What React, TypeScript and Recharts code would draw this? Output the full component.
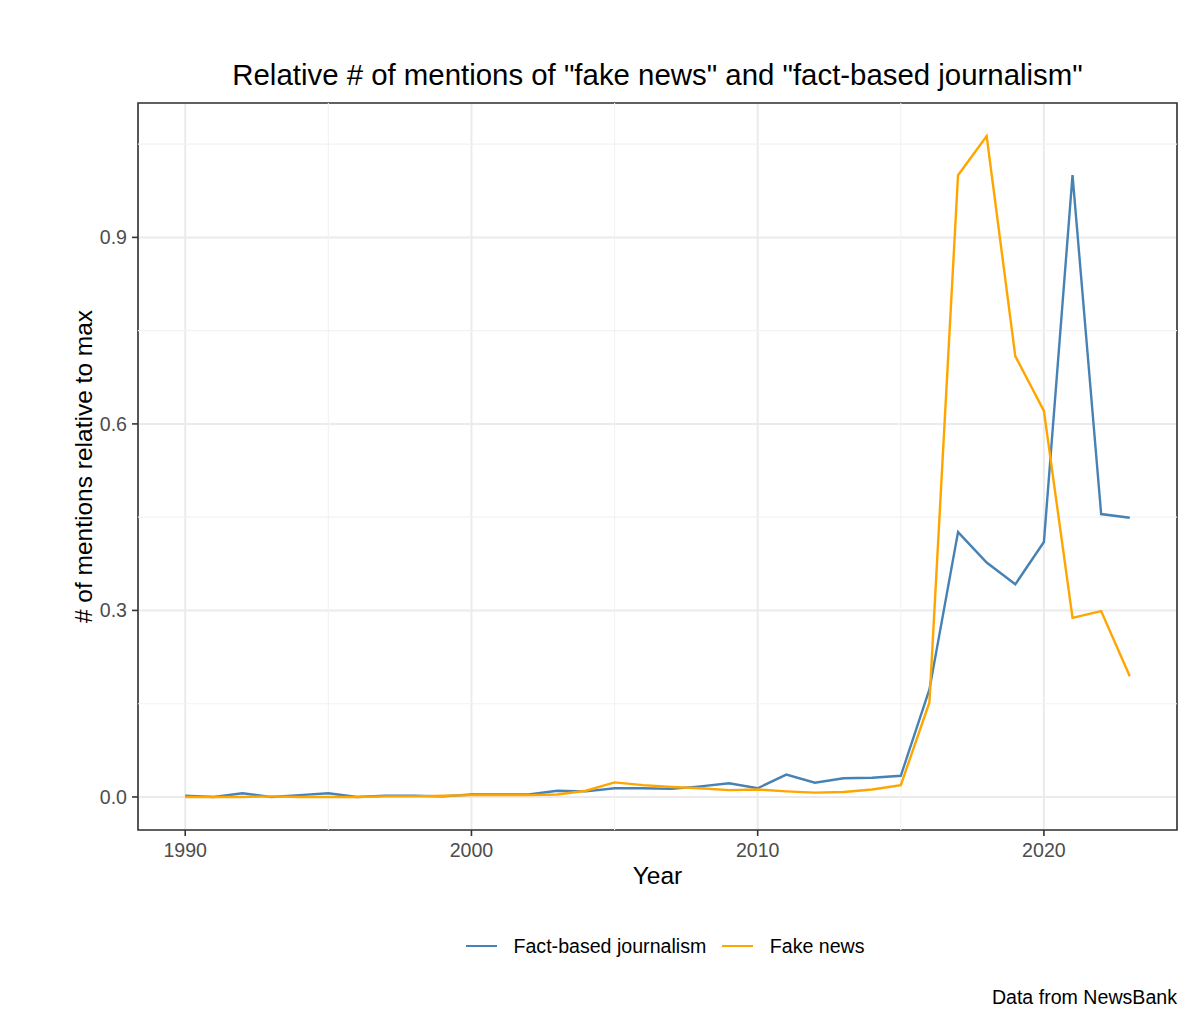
import React from 'react';
import {
  LineChart,
  Line,
  XAxis,
  YAxis,
  CartesianGrid,
  ReferenceLine,
  ReferenceArea,
  Legend,
} from 'recharts';

// Yearly mention counts, scaled to each series' maximum (NewsBank)
const years = [
  1990, 1991, 1992, 1993, 1994, 1995, 1996, 1997, 1998, 1999,
  2000, 2001, 2002, 2003, 2004, 2005, 2006, 2007, 2008, 2009,
  2010, 2011, 2012, 2013, 2014, 2015, 2016, 2017, 2018, 2019,
  2020, 2021, 2022, 2023,
];

const factBased = [
  0.002, 0.0, 0.006, 0.0, 0.003, 0.006, 0.0, 0.002, 0.002, 0.001,
  0.004, 0.004, 0.004, 0.01, 0.009, 0.014, 0.014, 0.013, 0.017, 0.022,
  0.014, 0.036, 0.023, 0.03, 0.031, 0.034, 0.173, 0.426, 0.377, 0.342,
  0.41, 1.0, 0.455, 0.449,
];

const fakeNews = [
  0.0, 0.0, 0.0, 0.001, 0.0, 0.0, 0.0, 0.001, 0.001, 0.002,
  0.003, 0.003, 0.003, 0.004, 0.01, 0.0235, 0.019, 0.016, 0.014, 0.011,
  0.012, 0.009, 0.007, 0.008, 0.012, 0.019, 0.152, 1.0, 1.063, 0.709,
  0.621, 0.288, 0.299, 0.194,
];

const seriesNames = ['Fact-based journalism', 'Fake news'];
const seriesColors = ['#4682B4', '#FFA500'];

const xTicks = [1990, 2000, 2010, 2020];
const xMinorTicks = [1995, 2005, 2015];
const yTicks = [0, 0.3, 0.6, 0.9];
const yMinorTicks = [0.15, 0.45, 0.75, 1.05];

const chartData = years.map((year, i) => ({
  year,
  fact: factBased[i],
  fake: fakeNews[i],
}));

// ggplot-style 5% expansion on both axes
const xSpan = years[years.length - 1] - years[0];
const xDomain = [years[0] - xSpan * 0.05, years[years.length - 1] + xSpan * 0.05];
const yMax = Math.max(...factBased, ...fakeNews);
const yDomain = [-yMax * 0.05, yMax * 1.05];

const FONT = '"Liberation Sans", Arial, Helvetica, sans-serif';
const TICK_STYLE = { fill: '#4d4d4d', fontSize: 19.6, fontFamily: FONT };

const LegendContent: React.FC<any> = ({ payload }) => (
  <div style={{ display: 'flex', alignItems: 'center', height: 20, fontFamily: FONT }}>
    {(payload || []).map((entry: any, i: number) => (
      <div key={`item-${i}`} style={{ display: 'flex', alignItems: 'center', marginRight: 16 }}>
        <div style={{ width: 31, height: 2.4, background: entry.color, marginRight: 16.5 }} />
        <span style={{ fontSize: 19.6, lineHeight: '20px', color: '#000', whiteSpace: 'nowrap' }}>
          {entry.value}
        </span>
      </div>
    ))}
  </div>
);

const App: React.FC = () => {
  return (
    <div
      style={{
        position: 'absolute',
        left: 0,
        top: 0,
        width: 1200,
        height: 1031,
        background: '#fff',
        fontFamily: FONT,
      }}
    >
      <div
        style={{
          position: 'absolute',
          left: 0,
          width: 1315,
          top: 59.5,
          textAlign: 'center',
          fontSize: 29.4,
          lineHeight: '29.4px',
          color: '#000',
          whiteSpace: 'nowrap',
        }}
      >
        Relative # of mentions of "fake news" and "fact-based journalism"
      </div>

      <LineChart
        width={1200}
        height={1031}
        data={chartData}
        margin={{ top: 103, right: 23, bottom: 161, left: 78 }}
      >
        <CartesianGrid stroke="#ebebeb" strokeWidth={2} />
        {xMinorTicks.map((v) => (
          <ReferenceLine key={`xm-${v}`} x={v} stroke="#f2f2f2" strokeWidth={1.1} />
        ))}
        {yMinorTicks.map((v) => (
          <ReferenceLine key={`ym-${v}`} y={v} stroke="#f2f2f2" strokeWidth={1.1} />
        ))}
        <XAxis
          dataKey="year"
          type="number"
          domain={xDomain}
          allowDataOverflow
          ticks={xTicks}
          interval={0}
          height={40}
          axisLine={false}
          tickSize={6}
          tickMargin={7}
          tickLine={{ stroke: '#333333', strokeWidth: 1.6 }}
          tick={TICK_STYLE}
          label={({ viewBox }: any) => (
            <text
              x={viewBox.x + viewBox.width / 2}
              y={viewBox.y + 54}
              textAnchor="middle"
              fontSize={24.5}
              fontFamily={FONT}
              fill="#000"
            >
              Year
            </text>
          )}
        />
        <YAxis
          type="number"
          domain={yDomain}
          allowDataOverflow
          ticks={yTicks}
          interval={0}
          width={60}
          axisLine={false}
          tickSize={6}
          tickMargin={5}
          tickLine={{ stroke: '#333333', strokeWidth: 1.6 }}
          tick={TICK_STYLE}
          tickFormatter={(v: number) => v.toFixed(1)}
          label={({ viewBox }: any) => {
            const cx = viewBox.x + 13.7;
            const cy = viewBox.y + viewBox.height / 2;
            return (
              <text
                x={cx}
                y={cy}
                transform={`rotate(-90 ${cx} ${cy})`}
                textAnchor="middle"
                fontSize={24.5}
                fontFamily={FONT}
                fill="#000"
              >
                # of mentions relative to max
              </text>
            );
          }}
        />
        <Line
          type="linear"
          dataKey="fact"
          name={seriesNames[0]}
          stroke={seriesColors[0]}
          strokeWidth={2.4}
          dot={false}
          activeDot={false}
          isAnimationActive={false}
        />
        <Line
          type="linear"
          dataKey="fake"
          name={seriesNames[1]}
          stroke={seriesColors[1]}
          strokeWidth={2.4}
          dot={false}
          activeDot={false}
          isAnimationActive={false}
        />
        <ReferenceArea
          x1={xDomain[0]}
          x2={xDomain[1]}
          y1={yDomain[0]}
          y2={yDomain[1]}
          fill="none"
          stroke="#333333"
          strokeWidth={1.6}
          ifOverflow="visible"
        />
        <Legend
          layout="horizontal"
          verticalAlign="middle"
          align="center"
          content={<LegendContent />}
          wrapperStyle={{ position: 'absolute', top: 936, left: 466, width: 'auto', height: 20 }}
        />
      </LineChart>

      <div
        style={{
          position: 'absolute',
          right: 23,
          top: 987.7,
          fontSize: 19.6,
          lineHeight: '19.6px',
          color: '#000',
          whiteSpace: 'nowrap',
        }}
      >
        Data from NewsBank
      </div>
    </div>
  );
};

export default App;
